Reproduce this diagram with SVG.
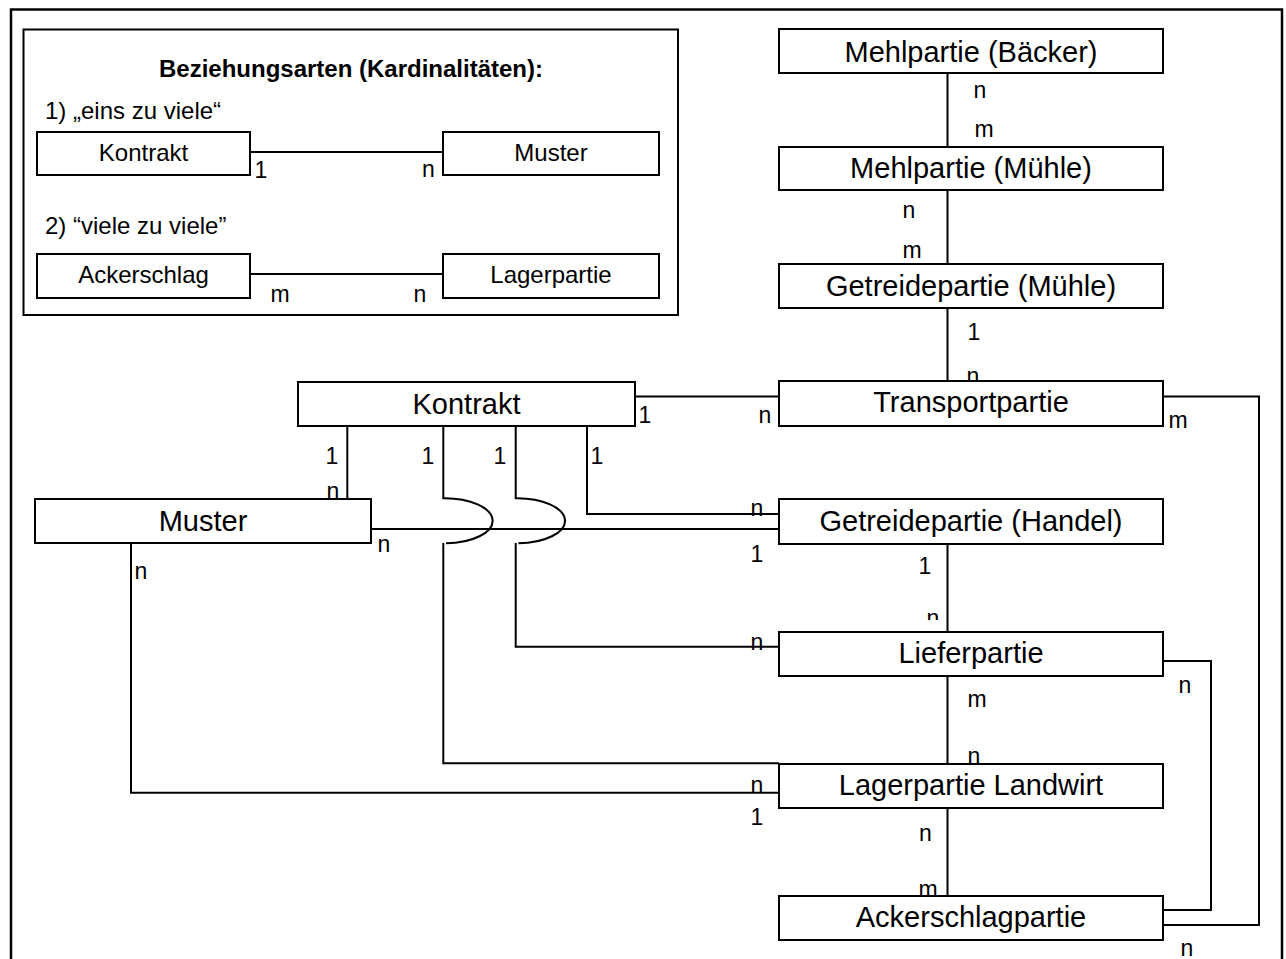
<svg xmlns="http://www.w3.org/2000/svg" width="1286" height="959" viewBox="0 0 1286 959">
<style>
  text { font-family: "Liberation Sans", Arial, sans-serif; fill: #000; }
  .box { fill: #fff; stroke: #000; stroke-width: 2; }
  .ln { fill: none; stroke: #000; stroke-width: 2; }
  .big { font-size: 29px; text-anchor: middle; }
  .leg { font-size: 24px; }
  .legc { font-size: 24px; text-anchor: middle; }
  .lbl { font-size: 23px; text-anchor: middle; }
  .title { font-size: 24px; font-weight: bold; text-anchor: middle; }
</style>
<defs>
  <clipPath id="clipLief"><rect x="900" y="600" width="80" height="20"/></clipPath>
  <clipPath id="clipTrans"><rect x="950" y="360" width="50" height="21"/></clipPath>
</defs>
<rect width="1286" height="959" fill="#fff"/>
<rect x="11" y="9.5" width="1271" height="980" fill="none" stroke="#000" stroke-width="2.5"/>

<g id="legend">
  <rect x="23.5" y="29.5" width="654.5" height="285.5" fill="none" stroke="#000" stroke-width="2"/>
  <text class="title" x="351" y="77">Beziehungsarten (Kardinalitäten):</text>
  <text class="leg" x="45" y="119">1) „eins zu viele“</text>
  <line class="ln" x1="250" y1="152" x2="443" y2="152"/>
  <rect class="box" x="37" y="132" width="213" height="43"/>
  <text class="legc" x="143.5" y="161">Kontrakt</text>
  <rect class="box" x="443" y="132" width="216" height="43"/>
  <text class="legc" x="551" y="161">Muster</text>
  <text class="lbl" x="261" y="178">1</text>
  <text class="lbl" x="428.5" y="177">n</text>
  <text class="leg" x="45" y="234">2) “viele zu viele”</text>
  <line class="ln" x1="250" y1="274" x2="443" y2="274"/>
  <rect class="box" x="37" y="254" width="213" height="44"/>
  <text class="legc" x="143.5" y="283">Ackerschlag</text>
  <rect class="box" x="443" y="254" width="216" height="44"/>
  <text class="legc" x="551" y="283">Lagerpartie</text>
  <text class="lbl" x="280" y="302">m</text>
  <text class="lbl" x="420" y="302">n</text>
</g>

<g id="connectors">
  <line class="ln" x1="947.5" y1="73" x2="947.5" y2="147"/>
  <line class="ln" x1="947.5" y1="190" x2="947.5" y2="264"/>
  <line class="ln" x1="947.5" y1="308" x2="947.5" y2="381"/>
  <line class="ln" x1="635" y1="396.5" x2="779" y2="396.5"/>
  <polyline class="ln" points="1163,396.5 1259,396.5 1259,925 1163,925"/>
  <line class="ln" x1="347.3" y1="426" x2="347.3" y2="499"/>
  <path class="ln" d="M443.3,426 V498.3 A48,22.5 0 0 1 446,543.3 M443.3,543 V763.3 H779"/>
  <path class="ln" d="M515.7,426 V498.3 A48,22.5 0 0 1 518.4,543.3 M515.7,543 V646.7 H779"/>
  <polyline class="ln" points="587,426 587,514 779,514"/>
  <line class="ln" x1="371" y1="529" x2="779" y2="529"/>
  <polyline class="ln" points="131,543 131,792.7 779,792.7"/>
  <line class="ln" x1="947.5" y1="544" x2="947.5" y2="632"/>
  <line class="ln" x1="947.5" y1="676" x2="947.5" y2="764"/>
  <line class="ln" x1="947.5" y1="808" x2="947.5" y2="896"/>
  <polyline class="ln" points="1163,661 1211,661 1211,910 1163,910"/>

  <text class="lbl" x="980" y="98">n</text>
  <text class="lbl" x="984" y="137">m</text>
  <text class="lbl" x="909" y="218">n</text>
  <text class="lbl" x="912" y="258">m</text>
  <text class="lbl" x="974" y="340">1</text>
  <text class="lbl" x="973" y="384" clip-path="url(#clipTrans)">n</text>
  <text class="lbl" x="1178" y="428">m</text>
  <text class="lbl" x="645" y="423">1</text>
  <text class="lbl" x="765" y="423">n</text>
  <text class="lbl" x="332" y="464">1</text>
  <text class="lbl" x="428" y="464">1</text>
  <text class="lbl" x="500" y="464">1</text>
  <text class="lbl" x="597" y="464">1</text>
  <text class="lbl" x="333" y="499">n</text>
  <text class="lbl" x="384" y="552">n</text>
  <text class="lbl" x="141" y="579">n</text>
  <text class="lbl" x="757" y="516">n</text>
  <text class="lbl" x="757" y="562">1</text>
  <text class="lbl" x="925" y="574">1</text>
  <text class="lbl" x="933" y="626" clip-path="url(#clipLief)">n</text>
  <text class="lbl" x="757" y="650">n</text>
  <text class="lbl" x="977" y="707">m</text>
  <text class="lbl" x="974" y="764">n</text>
  <text class="lbl" x="1185" y="693">n</text>
  <text class="lbl" x="757" y="793">n</text>
  <text class="lbl" x="757" y="825">1</text>
  <text class="lbl" x="925.5" y="841">n</text>
  <text class="lbl" x="928" y="897">m</text>
  <text class="lbl" x="1187" y="956">n</text>
</g>

<g id="mehlpartie-baecker">
  <rect class="box" x="779" y="29" width="384" height="44"/>
  <text class="big" x="971" y="62">Mehlpartie (Bäcker)</text>
</g>
<g id="mehlpartie-muehle">
  <rect class="box" x="779" y="147" width="384" height="43"/>
  <text class="big" x="971" y="178">Mehlpartie (Mühle)</text>
</g>
<g id="getreidepartie-muehle">
  <rect class="box" x="779" y="264" width="384" height="44"/>
  <text class="big" x="971" y="296">Getreidepartie (Mühle)</text>
</g>
<g id="transportpartie">
  <rect class="box" x="779" y="381" width="384" height="45"/>
  <text class="big" x="971" y="412">Transportpartie</text>
</g>
<g id="kontrakt">
  <rect class="box" x="298" y="382" width="337" height="44"/>
  <text class="big" x="466.5" y="414">Kontrakt</text>
</g>
<g id="muster">
  <rect class="box" x="35" y="499" width="336" height="44"/>
  <text class="big" x="203" y="531">Muster</text>
</g>
<g id="getreidepartie-handel">
  <rect class="box" x="779" y="499" width="384" height="45"/>
  <text class="big" x="971" y="531">Getreidepartie (Handel)</text>
</g>
<g id="lieferpartie">
  <rect class="box" x="779" y="632" width="384" height="44"/>
  <text class="big" x="971" y="663">Lieferpartie</text>
</g>
<g id="lagerpartie-landwirt">
  <rect class="box" x="779" y="764" width="384" height="44"/>
  <text class="big" x="971" y="795">Lagerpartie Landwirt</text>
</g>
<g id="ackerschlagpartie">
  <rect class="box" x="779" y="896" width="384" height="44"/>
  <text class="big" x="971" y="927">Ackerschlagpartie</text>
</g>
</svg>
